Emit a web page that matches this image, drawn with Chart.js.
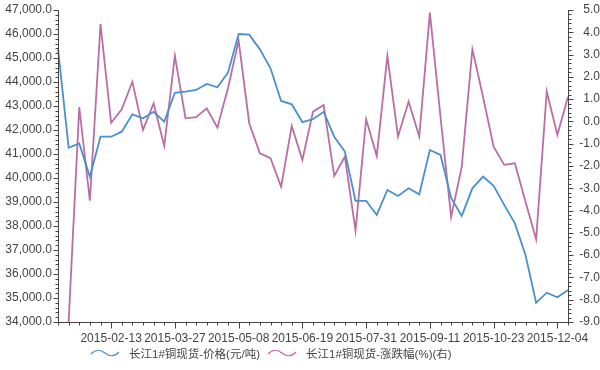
<!DOCTYPE html>
<html>
<head>
<meta charset="utf-8">
<script src="https://cdn.jsdelivr.net/npm/chart.js@4.4.1/dist/chart.umd.min.js"></script>
<style>
    html, body { margin: 0; padding: 0; background: #fff; }
    #wrap { position: relative; width: 600px; height: 370px; }
    #legend {
        position: absolute; left: 90px; top: 345px;
        display: flex; align-items: center;
        font: 11.5px "Liberation Sans", "Noto Sans CJK SC", sans-serif; color: #444;
    }
    #legend .item { display: flex; align-items: center; margin-right: 7px; }
    #legend svg { margin-right: 9px; }
</style>
</head>
<body>
<div id="wrap">
    <canvas id="chart"></canvas>
    <div id="legend"></div>
</div>
<script>
"use strict";

var dates = [
    "2015-01-09", "2015-01-16", "2015-01-23", "2015-01-30", "2015-02-06", "2015-02-13",
    "2015-02-20", "2015-02-27", "2015-03-06", "2015-03-13", "2015-03-20", "2015-03-27",
    "2015-04-03", "2015-04-10", "2015-04-17", "2015-04-24", "2015-05-01", "2015-05-08",
    "2015-05-15", "2015-05-22", "2015-05-29", "2015-06-05", "2015-06-12", "2015-06-19",
    "2015-06-26", "2015-07-03", "2015-07-10", "2015-07-17", "2015-07-24", "2015-07-31",
    "2015-08-07", "2015-08-14", "2015-08-21", "2015-08-28", "2015-09-04", "2015-09-11",
    "2015-09-18", "2015-09-25", "2015-10-02", "2015-10-09", "2015-10-16", "2015-10-23",
    "2015-10-30", "2015-11-06", "2015-11-13", "2015-11-20", "2015-11-27", "2015-12-04",
    "2015-12-11"
];

// 长江1#铜现货 价格 (元/吨)
var price = [
    45400, 41260, 41440, 40050, 41720, 41720, 41930, 42650, 42490, 42760,
    42350, 43550, 43600, 43670, 43920, 43780, 44390, 46000, 45970, 45360,
    44570, 43210, 43070, 42330, 42450, 42760, 41720, 41100, 39050, 39050,
    38460, 39500, 39250, 39570, 39320, 41170, 40960, 39170, 38420, 39570,
    40060, 39670, 38880, 38110, 36790, 34800, 35220, 35030, 35330
];

// 涨跌幅 (%), right axis
var change = [
    null, -9.0, 0.64, -3.56, 4.37, -0.06, 0.54, 1.78, -0.38, 0.81,
    -1.10, 2.94, 0.14, 0.19, 0.59, -0.28, 1.5, 3.62, -0.08, -1.43,
    -1.65, -2.93, -0.2, -1.73, 0.44, 0.74, -2.45, -1.58, -4.9, 0.1,
    -1.55, 2.94, -0.68, 0.89, -0.68, 4.88, 0.2, -4.29, -2.03, 3.24,
    1.11, -1.13, -1.95, -1.88, -3.6, -5.29, 1.34, -0.61, 1.11
];

var seriesNames = ["长江1#铜现货-价格(元/吨)", "长江1#铜现货-涨跌幅(%)(右)"];
var COLORS = ["#4a90cd", "#bb6ea5"];

var FONT = '"Liberation Sans", "Noto Sans CJK SC", sans-serif';
var AXIS_COLOR = "#444";

// axis lines and tick marks (major + minor), drawn from the scales
var axisTicks = {
    id: "axisTicks",
    afterDraw: function (chart) {
        var ctx = chart.ctx;
        var area = chart.chartArea;
        var x = chart.scales.x, yl = chart.scales.y, yr = chart.scales.y1;
        ctx.save();
        ctx.strokeStyle = AXIS_COLOR;
        ctx.lineWidth = 1;
        ctx.beginPath();
        var L = Math.round(area.left) + 0.5, R = Math.round(area.right) + 0.5, B = Math.round(area.bottom) + 0.5;
        ctx.moveTo(L, area.top); ctx.lineTo(L, B); ctx.lineTo(R, B); ctx.lineTo(R, area.top);

        var v, p, i;
        for (v = yl.min; v <= yl.max + 0.001; v += 200) {
            p = Math.round(yl.getPixelForValue(v)) + 0.5;
            var len = (Math.round(v) % 1000 === 0) ? 5 : 3;
            ctx.moveTo(L - len, p); ctx.lineTo(L, p);
        }
        for (i = 0; i <= (yr.max - yr.min) * 5; i++) {
            v = yr.min + i * 0.2;
            p = Math.round(yr.getPixelForValue(v)) + 0.5;
            var len2 = (i % 5 === 0) ? 5 : 3;
            ctx.moveTo(R, p); ctx.lineTo(R + len2, p);
        }
        for (i = 0; i < dates.length; i++) {
            p = Math.round(x.getPixelForValue(i)) + 0.5;
            var len3 = ((i - 5) % 6 === 0 && i >= 5) ? 6 : 3;
            ctx.moveTo(p, B); ctx.lineTo(p, B + len3);
        }
        ctx.stroke();
        ctx.restore();
    }
};

function fmtThousands(v) {
    return Number(v).toLocaleString("en-US", { minimumFractionDigits: 1, maximumFractionDigits: 1 });
}

// fixed axis sizes so the plot area lands where the original has it
function fixWidth(w) {
    return function (scale) {
        scale.width = w;
        scale.paddingTop = 0;
        scale.paddingBottom = 0;
    };
}

var ctx = document.getElementById("chart").getContext("2d");
var chart = new Chart(ctx, {
    type: "line",
    data: {
        labels: dates,
        datasets: [
            {
                label: seriesNames[0],
                data: price,
                yAxisID: "y",
                borderColor: COLORS[0],
                backgroundColor: COLORS[0],
                borderWidth: 1.8,
                pointRadius: 0,
                tension: 0,
                fill: false
            },
            {
                label: seriesNames[1],
                data: change,
                yAxisID: "y1",
                borderColor: COLORS[1],
                backgroundColor: COLORS[1],
                borderWidth: 1.8,
                pointRadius: 0,
                tension: 0,
                fill: false
            }
        ]
    },
    options: {
        responsive: true,
        maintainAspectRatio: false,
        animation: false,
        layout: { padding: { top: 10, left: 0, right: 0, bottom: 0 } },
        plugins: {
            legend: { display: false },
            tooltip: { enabled: false }
        },
        scales: {
            x: {
                type: "category",
                offset: false,
                grid: { display: false, drawTicks: false },
                border: { display: false },
                ticks: {
                    autoSkip: false,
                    maxRotation: 0,
                    minRotation: 0,
                    padding: 9,
                    color: "#444",
                    font: { family: FONT, size: 12 },
                    callback: function (val, i) {
                        return ((i - 5) % 6 === 0 && i >= 5) ? this.getLabelForValue(val) : "";
                    }
                },
                afterFit: function (scale) {
                    scale.height = 48;
                    scale.paddingLeft = 0;
                    scale.paddingRight = 0;
                }
            },
            y: {
                position: "left",
                min: 34000,
                max: 47000,
                grid: { display: false, drawTicks: false },
                border: { display: false },
                ticks: {
                    stepSize: 1000,
                    padding: 6,
                    color: "#444",
                    font: { family: FONT, size: 12 },
                    callback: function (v) { return fmtThousands(v); }
                },
                afterFit: fixWidth(58)
            },
            y1: {
                position: "right",
                min: -9,
                max: 5,
                grid: { display: false, drawTicks: false },
                border: { display: false },
                ticks: {
                    stepSize: 1,
                    padding: 4,
                    crossAlign: "far",
                    color: "#444",
                    font: { family: FONT, size: 12 },
                    callback: function (v) { return Number(v).toFixed(1); }
                },
                afterFit: fixWidth(32)
            }
        }
    },
    plugins: [axisTicks]
});

// legend with little wave icons
var legendEl = document.getElementById("legend");
for (var k = 0; k < seriesNames.length; k++) {
    var item = document.createElement("div");
    item.className = "item";
    item.innerHTML =
        '<svg width="30" height="10" viewBox="0 0 30 10">' +
        '<path d="M1 6 C 6 1, 10 1, 15 5 S 24 9, 29 4" fill="none" stroke="' + COLORS[k] + '" stroke-width="1.3"/>' +
        '</svg><span>' + seriesNames[k] + '</span>';
    legendEl.appendChild(item);
}
</script>
</body>
</html>
